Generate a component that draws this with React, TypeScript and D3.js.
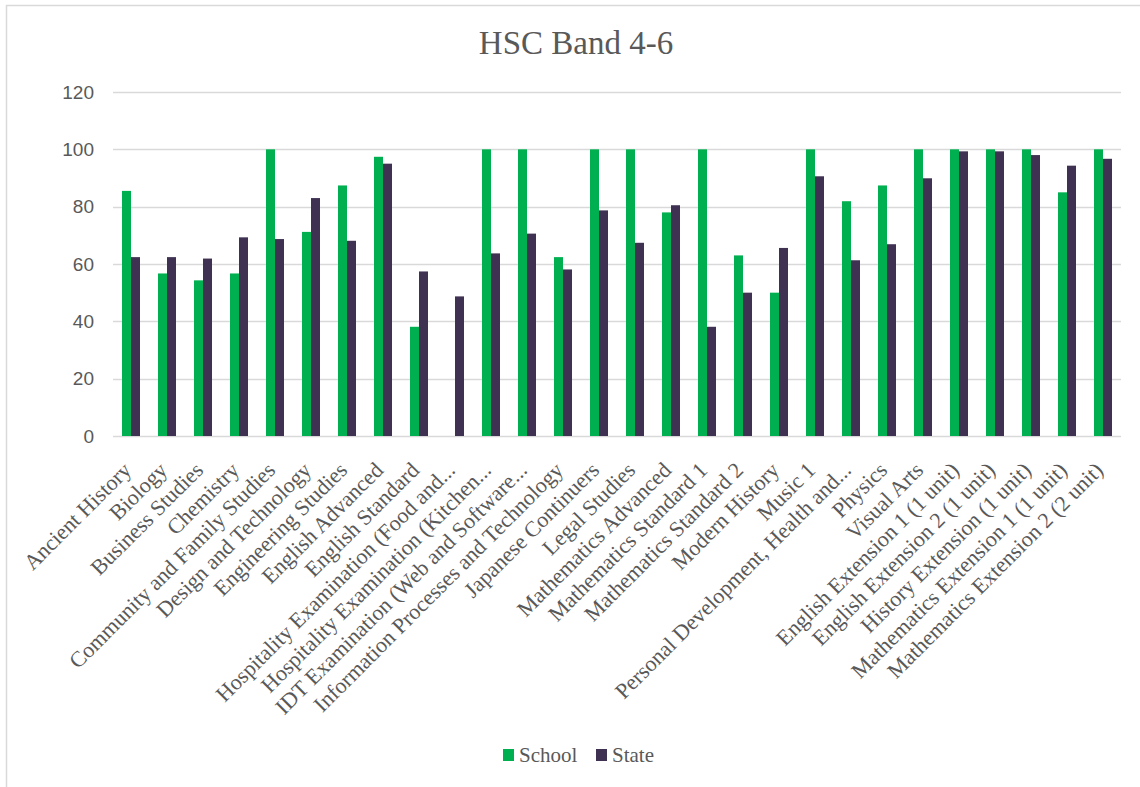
import React from "react";
import * as d3 from "d3";

const categories = [
  "Ancient History",
  "Biology",
  "Business Studies",
  "Chemistry",
  "Community and Family Studies",
  "Design and Technology",
  "Engineering Studies",
  "English Advanced",
  "English Standard",
  "Hospitality Examination (Food and...",
  "Hospitality Examination (Kitchen...",
  "IDT Examination (Web and Software...",
  "Information Processes and Technology",
  "Japanese Continuers",
  "Legal Studies",
  "Mathematics Advanced",
  "Mathematics Standard 1",
  "Mathematics Standard 2",
  "Modern History",
  "Music 1",
  "Personal Development, Health and...",
  "Physics",
  "Visual Arts",
  "English Extension 1 (1 unit)",
  "English Extension 2 (1 unit)",
  "History Extension (1 unit)",
  "Mathematics Extension 1 (1 unit)",
  "Mathematics Extension 2 (2 unit)",
];

const schoolValues: (number | null)[] = [
  85.5, 56.7, 54.3, 56.7, 100, 71.2, 87.4, 97.4, 38.1, null, 100, 100, 62.4, 100,
  100, 78.0, 100, 63.0, 50.0, 100, 81.9, 87.4, 100, 100, 100, 100, 85.0, 100,
];

const stateValues: (number | null)[] = [
  62.4, 62.4, 61.9, 69.3, 68.7, 83.0, 68.1, 95.0, 57.4, 48.7, 63.7, 70.6, 58.1,
  78.7, 67.4, 80.5, 38.1, 50.0, 65.6, 90.6, 61.3, 66.9, 89.9, 99.3, 99.3, 98.0,
  94.3, 96.7,
];

const seriesNames = ["School", "State"];
const seriesColors = ["#00B050", "#3F3151"];
const yTicks = [0, 20, 40, 60, 80, 100, 120];
const title = "HSC Band 4-6";

const W = 1140;
const H = 787;
const plotLeft = 113;
const plotRight = 1121;
const plotTop = 92;
const plotBottom = 436;

export default function App() {
  const x = d3.scaleBand<string>().domain(categories).range([plotLeft, plotRight]).padding(0);
  const xInner = d3
    .scaleBand<string>()
    .domain(seriesNames)
    .range([0, x.bandwidth()])
    .paddingInner(0)
    .paddingOuter(1);
  const y = d3.scaleLinear().domain([0, 120]).range([plotBottom, plotTop]);
  const series = [schoolValues, stateValues];

  const serif = "'Liberation Serif', 'Times New Roman', serif";
  const sans = "'Liberation Sans', Arial, sans-serif";
  const textColor = "#595959";

  return (
    <svg
      width={W}
      height={H}
      style={{ position: "absolute", left: 0, top: 0, background: "#fff" }}
    >
      <rect x={6.5} y={5.5} width={1300} height={1000} fill="#fff" stroke="#d9d9d9" strokeWidth={1.5} />
      <text
        x={576}
        y={54}
        textAnchor="middle"
        fontFamily={serif}
        fontSize={33}
        fill={textColor}
      >
        {title}
      </text>

      {yTicks.map((t) => (
        <g key={t}>
          <line
            x1={plotLeft}
            x2={plotRight}
            y1={Math.round(y(t)) + 0.5}
            y2={Math.round(y(t)) + 0.5}
            stroke="#d9d9d9"
            strokeWidth={1.3}
          />
          <text
            x={94}
            y={y(t)}
            dy="0.35em"
            textAnchor="end"
            fontFamily={sans}
            fontSize={19}
            fill={textColor}
          >
            {t}
          </text>
        </g>
      ))}

      {categories.map((c, i) => (
        <g key={c}>
          {series.map((vals, si) => {
            const v = vals[i];
            if (v == null) return null;
            const bx = (x(c) as number) + (xInner(seriesNames[si]) as number);
            return (
              <rect
                key={si}
                x={bx}
                y={y(v)}
                width={xInner.bandwidth()}
                height={y(0) - y(v)}
                fill={seriesColors[si]}
              />
            );
          })}
        </g>
      ))}

      {categories.map((c) => {
        const cx = (x(c) as number) + x.bandwidth() / 2 - 4;
        const cy = plotBottom + 30;
        return (
          <text
            key={c}
            transform={`translate(${cx},${cy}) rotate(-45)`}
            dy="0.35em"
            textAnchor="end"
            fontFamily={serif}
            fontSize={22}
            fill={textColor}
          >
            {c}
          </text>
        );
      })}

      {seriesNames.map((s, i) => {
        const lx = i === 0 ? 503 : 596;
        return (
          <g key={s}>
            <rect x={lx} y={749} width={11} height={12} fill={seriesColors[i]} />
            <text
              x={lx + 16}
              y={755}
              dy="0.35em"
              fontFamily={serif}
              fontSize={21}
              fill={textColor}
            >
              {s}
            </text>
          </g>
        );
      })}
    </svg>
  );
}
